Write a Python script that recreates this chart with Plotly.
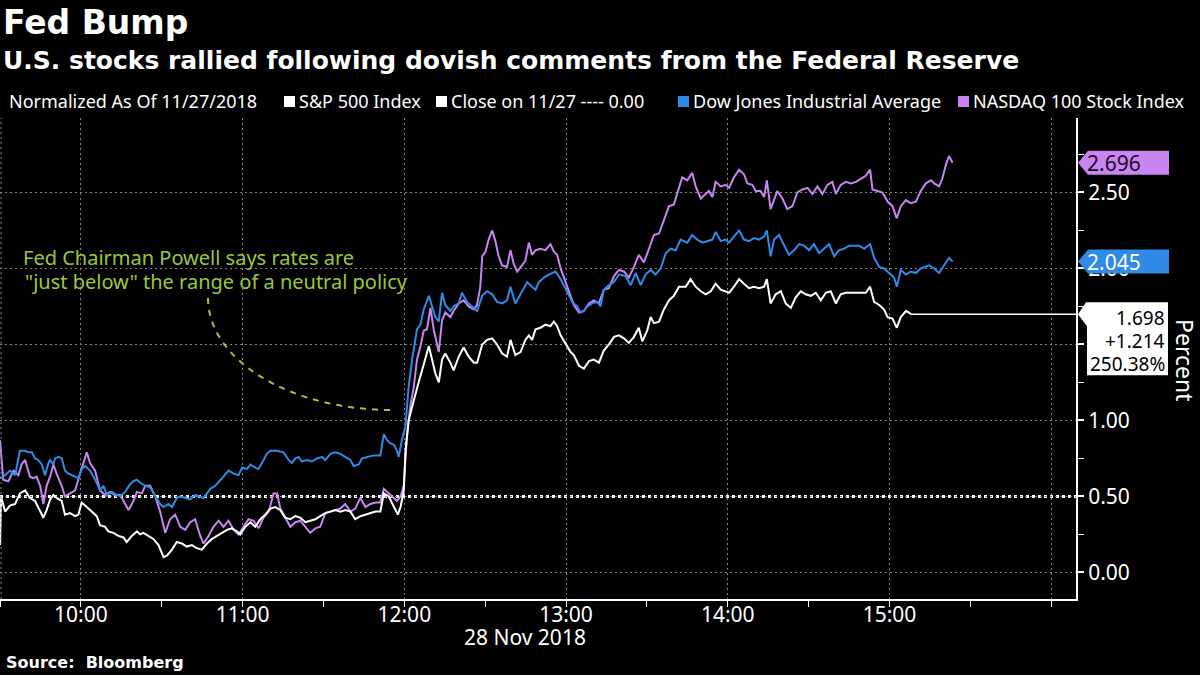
import pandas as pd
import plotly.graph_objects as go

# Minutes after the 09:30 open on 28 Nov 2018 and values normalized to the
# 11/27 close (percent).
sp_minutes = [
    0.0, 0.4, 1.9, 3.7, 5.6, 7.4, 9.3, 11.1, 13.0, 14.9, 16.1, 17.3, 18.6, 19.8, 21.0, 22.9,
    24.1, 26.0, 27.9, 29.1, 30.3, 32.2, 34.0, 35.9, 37.1, 39.0, 40.2, 42.1, 43.9, 45.8, 47.0,
    48.9, 50.8, 52.0, 53.2, 55.1, 56.9, 58.8, 60.7, 61.9, 63.8, 65.6, 67.5, 69.3, 71.2, 73.0,
    74.9, 76.8, 78.6, 80.5, 82.3, 84.2, 86.0, 87.9, 89.1, 91.0, 92.9, 94.7, 96.6, 98.4, 100.3,
    102.1, 104.0, 105.8, 107.7, 109.6, 111.4, 113.3, 115.1, 117.0, 118.8, 120.7, 122.6, 124.4,
    126.3, 128.1, 130.0, 131.8, 133.7, 135.6, 137.4, 139.3, 141.1, 142.4, 144.2, 146.1, 147.6,
    148.6, 149.8,
    150.4, 151.6, 152.9, 154.1, 155.3, 156.6, 157.8, 159.1, 160.3, 161.5, 162.8, 164.0, 165.2,
    167.1, 168.3, 170.2, 172.0, 173.9, 175.8, 177.0, 178.9, 180.7, 182.6, 184.4, 186.3, 188.1,
    189.4, 191.2, 193.1, 194.9, 196.2, 197.4, 198.7, 200.5, 202.4, 204.2, 205.5, 206.7, 208.0,
    209.8, 211.7, 212.9, 214.8, 216.6, 218.5, 220.3, 222.2, 224.0, 225.9, 227.8, 229.6, 231.5,
    233.3, 235.2, 237.0, 238.3, 240.1, 241.4, 242.6, 244.5, 246.3, 248.2, 250.0, 251.9,
    254.4, 256.2, 258.1, 260.0, 261.8, 263.7, 265.5, 267.4, 269.2, 270.5, 272.3, 274.2, 276.0,
    277.9, 279.7, 281.6, 283.5, 284.5, 285.9, 287.8, 289.7, 291.5, 293.4, 295.2, 297.1, 298.9,
    300.8, 302.7, 304.5, 306.4, 308.2, 310.1, 311.9, 313.8, 315.7, 317.5, 319.4, 321.2, 322.8,
    324.3, 326.2, 328.0, 329.3, 331.1, 332.7, 334.2, 336.1, 337.3, 337.9,
]
sp_values = [
    0.18, 0.50, 0.40, 0.44, 0.45, 0.52, 0.54, 0.49, 0.47, 0.40, 0.36, 0.41, 0.48, 0.51, 0.49, 0.47,
    0.38, 0.39, 0.37, 0.38, 0.46, 0.43, 0.40, 0.37, 0.31, 0.30, 0.27, 0.26, 0.24, 0.23, 0.20,
    0.24, 0.27, 0.25, 0.26, 0.24, 0.22, 0.18, 0.10, 0.11, 0.15, 0.20, 0.19, 0.17, 0.18, 0.16,
    0.15, 0.19, 0.22, 0.24, 0.26, 0.28, 0.29, 0.27, 0.25, 0.30, 0.33, 0.30, 0.35, 0.38, 0.42,
    0.43, 0.41, 0.36, 0.35, 0.37, 0.36, 0.33, 0.34, 0.35, 0.37, 0.39, 0.40, 0.41,
    0.40, 0.41, 0.40, 0.35, 0.37, 0.38, 0.39, 0.40, 0.40, 0.52, 0.50, 0.43, 0.38,
    0.43, 0.54,
    0.79, 1.00, 1.09, 1.18, 1.25, 1.33, 1.40, 1.49, 1.40, 1.31, 1.25, 1.40, 1.44,
    1.38, 1.33, 1.42, 1.48, 1.42, 1.38, 1.38, 1.50, 1.53, 1.54, 1.50, 1.44, 1.42,
    1.53, 1.43, 1.45, 1.53, 1.56, 1.53, 1.60, 1.61, 1.63, 1.62, 1.65, 1.62, 1.56,
    1.51, 1.45, 1.43, 1.36, 1.34, 1.39, 1.40, 1.38, 1.46, 1.50, 1.55, 1.56, 1.54,
    1.51, 1.55, 1.61, 1.52, 1.59, 1.68, 1.64, 1.65, 1.73, 1.79, 1.82, 1.88,
    1.88, 1.93, 1.88, 1.85, 1.83, 1.85, 1.90, 1.86, 1.85, 1.84, 1.88, 1.93, 1.90,
    1.87, 1.88, 1.87, 1.88, 1.93, 1.77, 1.83, 1.85, 1.77, 1.74, 1.81, 1.85, 1.83,
    1.82, 1.84, 1.79, 1.84, 1.85, 1.77, 1.83, 1.84, 1.84, 1.84, 1.84, 1.84, 1.88,
    1.78, 1.76, 1.73, 1.68, 1.67, 1.61, 1.68, 1.72, 1.71, 1.698,
]

dow_minutes = [
    0.0, 1.9, 3.7, 5.6, 7.4, 9.3, 10.5, 11.8, 13.0, 14.2, 15.5, 16.7, 18.0, 18.6, 19.8, 20.4,
    21.7, 22.9, 24.1, 25.4, 26.6, 27.9, 29.1, 30.3, 31.6, 33.4, 35.3, 37.1, 38.4, 39.6, 41.5,
    43.3, 44.6, 46.4, 48.3, 49.5, 50.8, 52.0, 53.9, 55.7, 57.6, 59.4, 60.7, 62.5, 63.8, 65.6,
    66.9, 68.7, 70.6, 72.4, 74.3, 75.5, 76.8, 78.0, 79.9, 81.7, 82.9, 84.8, 86.7, 88.5, 89.8,
    91.6, 92.9, 94.7, 95.9, 97.8, 99.0, 100.3, 102.8, 105.2, 107.1, 108.3, 109.6, 110.8, 112.0,
    113.9, 115.8, 117.6, 119.5, 120.7, 122.6, 124.4, 126.3, 128.1, 130.0, 131.2, 133.1, 134.3,
    136.2, 138.7, 141.1, 142.4, 143.6, 144.8, 146.1, 147.3, 147.9,
    149.1, 150.4, 151.6, 152.9, 154.7, 156.0, 157.2, 159.1, 160.3, 161.5, 162.8, 164.0, 165.2,
    167.1, 168.3, 170.2, 171.4, 173.3, 175.1, 177.0, 178.9, 180.7, 182.6, 184.4, 186.3, 188.1,
    189.4, 191.2, 193.1, 195.6, 197.4, 198.7, 199.9, 201.8, 203.6, 204.9, 206.1, 208.0, 209.2,
    210.4, 212.3, 214.1, 215.4, 216.6, 217.9, 219.7, 221.6, 222.8, 224.0, 225.9, 227.8, 229.6,
    232.1, 234.0, 235.8, 237.7, 239.5, 241.4, 243.2, 245.1, 247.0, 248.8, 250.7, 252.5,
    255.0, 256.8, 258.7, 260.6, 262.4, 264.3, 265.5, 267.4, 269.2, 270.5, 272.3, 274.2, 276.0,
    277.9, 279.7, 281.6, 283.5, 284.5, 285.9, 287.2, 289.0, 290.9, 292.7, 294.6, 296.5, 298.3,
    300.2, 302.0, 303.9, 305.7, 307.6, 309.5, 311.3, 313.2, 315.0, 316.9, 318.7, 320.6, 322.8,
    324.3, 326.2, 328.0, 329.9, 331.7, 332.7, 334.2, 336.1, 337.9, 339.8, 341.6,
    344.7, 346.6, 348.4, 350.3, 352.1, 353.4,
]
dow_values = [
    0.62, 0.64, 0.67, 0.64, 0.80, 0.80, 0.79, 0.79, 0.75, 0.74, 0.71, 0.64, 0.72, 0.74, 0.71, 0.75,
    0.76, 0.75, 0.67, 0.65, 0.64, 0.63, 0.62, 0.68, 0.70, 0.67, 0.61, 0.54, 0.57, 0.51, 0.53,
    0.51, 0.50, 0.53, 0.58, 0.60, 0.61, 0.59, 0.57, 0.56, 0.50, 0.45, 0.43, 0.45, 0.43, 0.49,
    0.50, 0.49, 0.48, 0.51, 0.50, 0.49, 0.52, 0.55, 0.57, 0.61, 0.63, 0.67, 0.65, 0.64, 0.69,
    0.68, 0.71, 0.69, 0.68, 0.74, 0.78, 0.80, 0.80, 0.79, 0.74, 0.72, 0.75, 0.76, 0.73,
    0.74, 0.73, 0.75, 0.76, 0.74, 0.78, 0.79, 0.78, 0.76, 0.74, 0.70, 0.71, 0.75,
    0.76, 0.77, 0.77, 0.91, 0.87, 0.85, 0.84, 0.80, 0.76,
    0.87, 0.96, 1.22, 1.40, 1.60, 1.63, 1.73, 1.82, 1.75, 1.68, 1.65, 1.84, 1.76,
    1.72, 1.75, 1.77, 1.84, 1.78, 1.75, 1.72, 1.82, 1.85, 1.83, 1.78, 1.77, 1.79,
    1.88, 1.77, 1.83, 1.91, 1.88, 1.86, 1.91, 1.94, 1.96, 1.97, 1.98, 1.93, 1.89,
    1.84, 1.78, 1.75, 1.71, 1.72, 1.75, 1.77, 1.78, 1.75, 1.86, 1.89, 1.91, 1.96,
    1.95, 1.89, 1.97, 1.89, 1.96, 1.99, 1.96, 2.00, 2.10, 2.13, 2.12, 2.19,
    2.17, 2.22, 2.19, 2.17, 2.18, 2.19, 2.24, 2.18, 2.19, 2.17, 2.21, 2.25, 2.19,
    2.18, 2.20, 2.19, 2.21, 2.25, 2.08, 2.19, 2.22, 2.15, 2.09, 2.12, 2.16, 2.15,
    2.12, 2.16, 2.10, 2.13, 2.16, 2.08, 2.12, 2.13, 2.15, 2.15, 2.15, 2.13, 2.16,
    2.07, 2.01, 2.00, 1.97, 1.94, 1.88, 1.99, 1.96, 1.98, 1.97, 2.00,
    2.02, 2.00, 1.97, 2.02, 2.07, 2.045,
]

ndx_minutes = [
    0.0, 1.2, 3.1, 5.0, 6.8, 8.0, 9.3, 11.1, 12.4, 13.6, 14.9, 16.1, 17.3, 18.6, 19.8, 21.0,
    22.9, 24.1, 26.0, 27.9, 29.7, 31.0, 32.2, 33.4, 35.3, 37.1, 39.0, 40.9, 42.7, 44.6, 46.4,
    47.7, 49.5, 50.8, 52.6, 53.9, 55.7, 57.6, 59.4, 61.3, 63.1, 65.0, 66.9, 68.7, 70.6, 72.4,
    74.3, 75.5, 77.4, 79.2, 81.1, 82.9, 84.8, 86.7, 88.5, 90.4, 92.2, 94.1, 95.9, 97.8, 99.7,
    101.5, 102.8, 104.0, 105.8, 107.7, 109.6, 111.4, 113.3, 115.1, 117.0, 118.8, 120.7, 122.6,
    124.4, 126.3, 128.1, 130.0, 131.8, 133.7, 135.6, 137.4, 139.3, 141.1, 142.4, 143.6, 144.8,
    146.1, 147.3, 148.6, 149.8,
    151.0, 152.2, 153.5, 154.7, 156.0, 157.2, 158.4, 159.7, 160.9, 162.1, 162.8, 164.0, 165.2,
    167.1, 168.3, 170.2, 172.0, 173.9, 175.8, 177.0, 178.2, 178.9, 180.1, 181.3, 182.6, 183.8,
    185.0, 186.3, 188.1, 189.4, 190.6, 191.9, 193.1, 194.9, 196.2, 197.4, 198.7, 200.5, 202.4,
    204.2, 205.5, 206.7, 208.0, 209.8, 211.7, 212.9, 214.8, 216.6, 218.5, 220.3, 222.2, 224.0,
    225.9, 227.8, 229.6, 231.5, 233.3, 235.2, 237.0, 238.9, 240.8, 242.6, 244.5, 246.3,
    248.2, 250.0, 251.9, 253.1, 255.0, 256.8, 258.1, 260.0, 261.8, 263.0, 264.3, 265.5, 267.4,
    269.2, 270.5, 272.3, 274.2, 276.0, 277.3, 279.1, 280.4, 282.2, 283.5, 284.5, 285.9, 287.2,
    288.4, 290.3, 292.1, 294.0, 295.8, 297.7, 299.6, 301.4, 303.3, 305.1, 307.0, 308.8, 310.1,
    311.9, 313.8, 315.7, 317.5, 319.4, 321.2, 322.8, 323.7, 325.6, 327.4, 329.3, 331.1, 332.7,
    334.2, 336.1, 337.9, 339.8, 341.6, 343.5, 345.4,
    346.6, 348.4, 349.6, 350.9, 352.1, 353.4,
]
ndx_values = [
    0.87, 0.61, 0.60, 0.67, 0.64, 0.71, 0.74, 0.63, 0.62, 0.63, 0.57, 0.45, 0.57, 0.63, 0.71, 0.65,
    0.57, 0.50, 0.52, 0.54, 0.65, 0.73, 0.79, 0.72, 0.67, 0.54, 0.51, 0.53, 0.51, 0.51, 0.45,
    0.41, 0.47, 0.53, 0.52, 0.57, 0.57, 0.50, 0.40, 0.26, 0.35, 0.38, 0.30, 0.28, 0.33, 0.35,
    0.24, 0.19, 0.24, 0.30, 0.34, 0.30, 0.34, 0.28, 0.25, 0.30, 0.35, 0.34, 0.29, 0.36, 0.40,
    0.52, 0.52, 0.42, 0.36, 0.30, 0.33, 0.34, 0.30, 0.26, 0.29, 0.30, 0.39, 0.40,
    0.41, 0.42, 0.45, 0.40, 0.42, 0.49, 0.43, 0.45, 0.46, 0.46, 0.55, 0.53, 0.51,
    0.49, 0.47, 0.50, 0.57,
    0.90, 1.09, 1.22, 1.40, 1.49, 1.59, 1.60, 1.74, 1.60, 1.49, 1.45, 1.66, 1.71,
    1.68, 1.72, 1.77, 1.79, 1.75, 1.73, 1.76, 1.88, 2.08, 2.11, 2.19, 2.25, 2.18,
    2.08, 2.02, 2.01, 2.12, 2.03, 1.98, 2.01, 2.05, 2.17, 2.09, 2.12, 2.13, 2.12,
    2.16, 2.11, 2.09, 2.00, 1.91, 1.82, 1.76, 1.71, 1.72, 1.77, 1.79, 1.77, 1.86,
    1.87, 1.95, 1.99, 1.98, 1.94, 2.01, 2.09, 2.04, 2.13, 2.22, 2.23, 2.32,
    2.41, 2.42, 2.54, 2.60, 2.58, 2.63, 2.54, 2.46, 2.49, 2.51, 2.47, 2.57, 2.54,
    2.55, 2.53, 2.60, 2.65, 2.62, 2.56, 2.55, 2.51, 2.51, 2.47, 2.58, 2.39, 2.46,
    2.51, 2.46, 2.39, 2.41, 2.50, 2.52, 2.53, 2.49, 2.54, 2.49, 2.55, 2.57, 2.49,
    2.55, 2.57, 2.56, 2.57, 2.59, 2.61, 2.65, 2.52, 2.51, 2.50, 2.44, 2.41, 2.33,
    2.41, 2.45, 2.43, 2.44, 2.51, 2.56, 2.58,
    2.56, 2.54, 2.59, 2.68, 2.74, 2.696,
]

sp_change = 1.214
sp_pct_change = 250.38
close_level = 0.50
y_ticks = [0.0, 0.5, 1.0, 1.5, 2.0, 2.5]
x_hours = ["10:00", "11:00", "12:00", "13:00", "14:00", "15:00", "16:00"]
x_labels = ["10:00", "11:00", "12:00", "13:00", "14:00", "15:00", ""]

OPEN = pd.Timestamp("2018-11-28 09:30")
X_END = pd.Timestamp("2018-11-28 16:09:12")
Y0, Y1 = -0.175, 2.99

SP_COLOR = "white"
DOW_COLOR = "#2f8ae8"
NDX_COLOR = "#c884f0"
GREEN = "#9ac83c"
GRID = "#808080"

# plot area in page pixels
PLOT_W, PLOT_TOP, PLOT_BOTTOM = 1076, 118, 599
PLOT_H = PLOT_BOTTOM - PLOT_TOP


def times(minutes):
    return OPEN + pd.to_timedelta(minutes, unit="min")


def xp(x):
    return x / PLOT_W


def yp(y):
    return (PLOT_BOTTOM - y) / PLOT_H


def value_px(v):
    return PLOT_BOTTOM - (v - Y0) / (Y1 - Y0) * PLOT_H


def poly(points):
    cmd = ["M" if i == 0 else "L" for i in range(len(points))]
    return " ".join(f"{c}{xp(x):.5f},{yp(y):.5f}" for c, (x, y) in zip(cmd, points)) + " Z"


fig = go.Figure()
for mins, vals, color in [(ndx_minutes, ndx_values, NDX_COLOR),
                          (dow_minutes, dow_values, DOW_COLOR),
                          (sp_minutes, sp_values, SP_COLOR)]:
    fig.add_trace(go.Scatter(x=times(mins), y=vals, mode="lines",
                             line=dict(color=color, width=2), hoverinfo="skip"))

shapes = [
    # close line
    dict(type="line", xref="paper", yref="y", x0=0, x1=1, y0=close_level, y1=close_level,
         line=dict(color="white", width=3, dash="dot"), layer="below"),
    # left edge dotted line
    dict(type="line", xref="paper", yref="paper", x0=0.001, x1=0.001, y0=0, y1=1,
         line=dict(color=GRID, width=1, dash="2px,3px")),
    # S&P last value carried to the axis
    dict(type="line", xref="x", yref="y", x0=times([sp_minutes[-1]])[0], x1=X_END,
         y0=sp_values[-1], y1=sp_values[-1], line=dict(color="white", width=1.5)),
    # annotation pointer
    dict(type="path", xref="paper", yref="paper",
         path=f"M{xp(208):.4f},{yp(298):.4f} C{xp(208):.4f},{yp(360):.4f} "
              f"{xp(290):.4f},{yp(410):.4f} {xp(392):.4f},{yp(410):.4f}",
         line=dict(color=GREEN, width=2, dash="6px,6px")),
]

annotations = []
# value tags on the right axis
for v, fill, txt_color in [(ndx_values[-1], NDX_COLOR, "#1a0826"),
                           (dow_values[-1], DOW_COLOR, "white")]:
    y = value_px(v)
    shapes.append(dict(type="path", xref="paper", yref="paper", fillcolor=fill,
                       line=dict(width=0),
                       path=poly([(1078, y), (1088, y - 12), (1169, y - 12),
                                  (1169, y + 12), (1088, y + 12)])))
    annotations.append(dict(text=f"{v:.3f}", x=xp(1085), y=yp(y),
                            font=dict(size=21, color=txt_color)))

y = value_px(sp_values[-1])
shapes.append(dict(type="path", xref="paper", yref="paper", fillcolor="white",
                   line=dict(width=0),
                   path=poly([(1078, y), (1086, y - 12), (1168, y - 12), (1168, y + 61),
                              (1087, y + 61), (1087, y + 12)])))
for k, txt in enumerate([f"{sp_values[-1]:.3f}", f"+{sp_change:.3f}", f"{sp_pct_change:.2f}%"]):
    annotations.append(dict(text=txt, x=xp(1167), y=yp(y + 4 + 23 * k), xanchor="right",
                            font=dict(size=19, color="black")))

# legend swatches
legend_items = [
    ("S&P 500 Index", SP_COLOR, 284),
    ("Close on 11/27 ---- 0.00", SP_COLOR, 436),
    ("Dow Jones Industrial Average", DOW_COLOR, 678),
    ("NASDAQ 100 Stock Index", NDX_COLOR, 958),
]
for name, color, x in legend_items:
    shapes.append(dict(type="rect", xref="paper", yref="paper", fillcolor=color,
                       line=dict(width=0), x0=xp(x), x1=xp(x + 11), y0=yp(107), y1=yp(96)))
    annotations.append(dict(text=name, x=xp(x + 13), y=yp(101), font=dict(size=18)))

# titles, notes
annotations += [
    dict(text="<b>Fed Bump</b>", x=xp(1), y=yp(22),
         font=dict(family="DejaVu Sans", size=33, color="white")),
    dict(text="<b>U.S. stocks rallied following dovish comments from the Federal Reserve</b>",
         x=xp(1), y=yp(60), font=dict(family="DejaVu Sans", size=25, color="white")),
    dict(text="Normalized As Of 11/27/2018", x=xp(7), y=yp(101), font=dict(size=18)),
    dict(text="Fed Chairman Powell says rates are", x=xp(21), y=yp(257),
         font=dict(size=20, color=GREEN)),
    dict(text="\"just below\" the range of a neutral policy", x=xp(23), y=yp(281),
         font=dict(size=20, color=GREEN)),
    dict(text="28 Nov 2018", x=xp(525), y=yp(637), xanchor="center", font=dict(size=21)),
    dict(text="<b>Source:  Bloomberg</b>", x=xp(4), y=yp(662),
         font=dict(family="DejaVu Sans", size=16, color="white")),
    dict(text="Percent", x=xp(1185), y=yp(360), xanchor="center", textangle=90,
         font=dict(size=23)),
]
for a in annotations:
    a.setdefault("xref", "paper")
    a.setdefault("yref", "paper")
    a.setdefault("xanchor", "left")
    a.setdefault("yanchor", "middle")
    a.setdefault("showarrow", False)

fig.update_layout(
    width=1200, height=675,
    paper_bgcolor="black", plot_bgcolor="black",
    margin=dict(l=0, r=1200 - PLOT_W, t=PLOT_TOP, b=675 - PLOT_BOTTOM),
    showlegend=False,
    font=dict(family="Noto Sans", color="white"),
    shapes=shapes,
    annotations=annotations,
    xaxis=dict(
        type="date", range=[OPEN, X_END],
        tickvals=[f"2018-11-28 {h}" for h in x_hours], ticktext=x_labels,
        ticks="", ticklabelstandoff=-4,
        showgrid=True, gridcolor=GRID, griddash="2px,3px", gridwidth=1,
        minor=dict(dtick=1800000, tick0="2018-11-28 09:30", ticks="outside", ticklen=6,
                   tickcolor="white", tickwidth=1, showgrid=False),
        showline=True, linecolor="white", linewidth=2,
        tickfont=dict(size=21, color="white"), zeroline=False,
    ),
    yaxis=dict(
        side="right", range=[Y0, Y1], tickvals=y_ticks, tickformat=".2f",
        showgrid=True, gridcolor=GRID, griddash="2px,3px", gridwidth=1,
        ticks="outside", ticklen=6, tickwidth=2, tickcolor="white",
        minor=dict(tickvals=[0.25, 0.75, 1.25, 1.75, 2.25, 2.75], ticks="outside",
                   ticklen=6, tickcolor="white", tickwidth=1, showgrid=False),
        showline=True, linecolor="white", linewidth=2,
        tickfont=dict(size=21, color="white"), zeroline=False,
    ),
)

# the page is photographed from its top-left corner, so drop the body margin
fig.write_html("out.html", config={"displayModeBar": False},
               post_script="document.body.style.margin = '0';")
